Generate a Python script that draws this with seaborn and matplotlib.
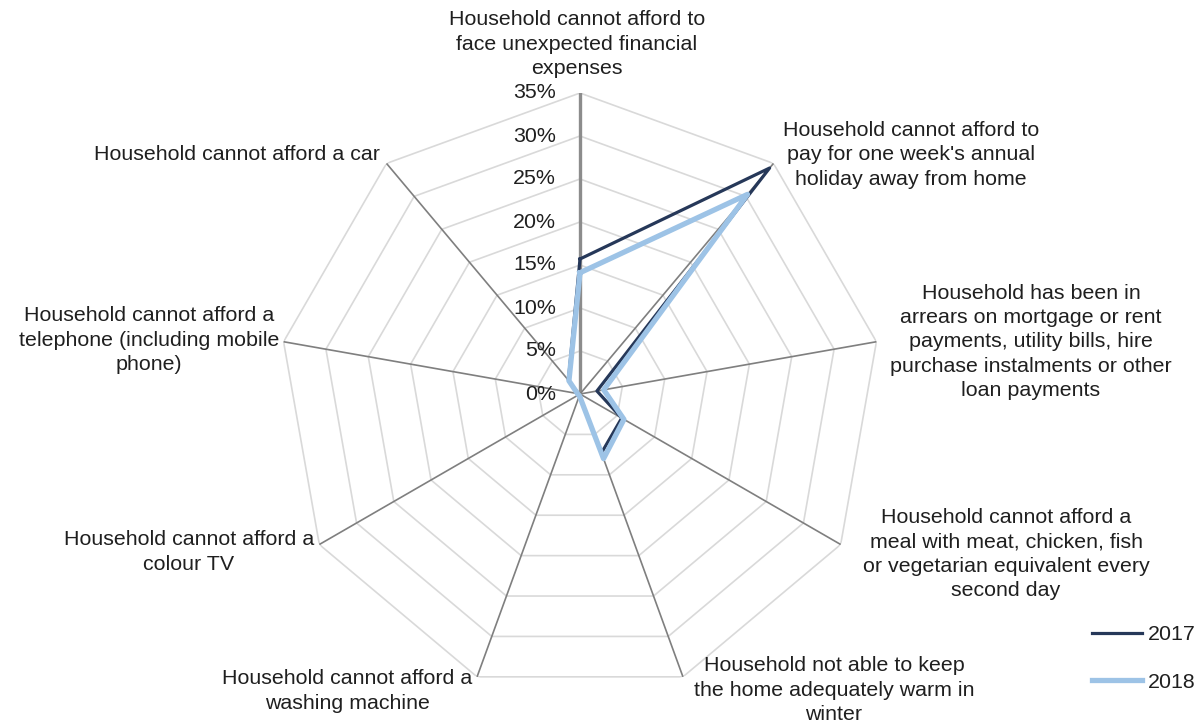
import numpy as np
import pandas as pd
import matplotlib
matplotlib.use("Agg")
import matplotlib.pyplot as plt
import matplotlib.transforms as mtransforms
from matplotlib.lines import Line2D
import seaborn as sns

categories = [
    "Household cannot afford to\nface unexpected financial\nexpenses",
    "Household cannot afford to\npay for one week's annual\nholiday away from home",
    "Household has been in\narrears on mortgage or rent\npayments, utility bills, hire\npurchase instalments or other\nloan payments",
    "Household cannot afford a\nmeal with meat, chicken, fish\nor vegetarian equivalent every\nsecond day",
    "Household not able to keep\nthe home adequately warm in\nwinter",
    "Household cannot afford a\nwashing machine",
    "Household cannot afford a\ncolour TV",
    "Household cannot afford a\ntelephone (including mobile\nphone)",
    "Household cannot afford a car",
]
values_2017 = [15.7, 34.3, 2.0, 5.6, 7.3, 0.2, 0.2, 0.3, 2.1]
values_2018 = [14.1, 30.3, 2.8, 5.9, 8.0, 0.2, 0.2, 0.3, 2.0]
years = ["2017", "2018"]
tick_values = [0, 5, 10, 15, 20, 25, 30, 35]
tick_labels = ["0%", "5%", "10%", "15%", "20%", "25%", "30%", "35%"]

colors = {"2017": "#263859", "2018": "#9DC3E6"}
widths = {"2017": 2.3, "2018": 3.8}

plt.rcParams["font.family"] = ["Liberation Sans", "DejaVu Sans"]
FS = 15.4
TXT = "#1f1f1f"

W, H = 1201, 724
fig = plt.figure(figsize=(W / 100, H / 100), dpi=100)
cx, cy, R = 580, 394, 301
ax = fig.add_axes([(cx - R) / W, (H - cy - R) / H, 2 * R / W, 2 * R / H], projection="polar")
ax.set_theta_zero_location("N")
ax.set_theta_direction(-1)
ax.set_ylim(0, 35)
ax.grid(False)
ax.set_xticks([])
ax.set_yticks([])
ax.spines["polar"].set_visible(False)
ax.patch.set_alpha(0)

n = len(categories)
theta = np.arange(n) * 2 * np.pi / n
theta_closed = np.append(theta, 2 * np.pi)

# polygon rings
for r in tick_values[1:]:
    ax.plot(theta_closed, [r] * (n + 1), color="#d9d9d9", lw=1.2, zorder=1)
# spokes
for i, t in enumerate(theta):
    if i == 0:
        ax.plot([t, t], [0, 35], color="#8c8c8c", lw=2.4, zorder=2)
    else:
        ax.plot([t, t], [0, 35], color="#7f7f7f", lw=1.2, zorder=2)

# data
rows = []
for year, vals in zip(years, [values_2017, values_2018]):
    vv = list(vals) + [vals[0]]
    for t, v in zip(theta_closed, vv):
        rows.append({"theta": t, "value": v, "year": year})
df = pd.DataFrame(rows)
for year in years:
    sub = df[df["year"] == year]
    sns.lineplot(data=sub, x="theta", y="value", sort=False, estimator=None,
                 color=colors[year], lw=widths[year], ax=ax, legend=False, zorder=5)
ax.set_xlabel("")
ax.set_ylabel("")
ax.set_xticks([])
ax.set_yticks([])
ax.set_ylim(0, 35)

# radial labels
off = mtransforms.offset_copy(ax.transData, fig=fig, x=-24, y=0, units="dots")
for v, lab in zip(tick_values, tick_labels):
    ax.text(0, v, lab, transform=off, ha="right", va="center", fontsize=FS, color=TXT)

# category labels (pixel centres)
label_pos = [(577, 44), (911, 155), (1031, 342), (1006, 554), (834, 690),
             (347, 691), (189, 552), (149, 340), (237, 155)]
for lab, (x, y) in zip(categories, label_pos):
    fig.text(x / W, 1 - y / H, lab, ha="center", va="center", multialignment="center",
             fontsize=FS, color=TXT, linespacing=1.34)

handles = [Line2D([], [], color=colors[y], lw=widths[y]) for y in years]
fig.legend(handles, years, loc="upper left", bbox_to_anchor=(1092 / W, 1 - 625 / H),
           frameon=False, fontsize=FS, handlelength=2.35, handletextpad=0.28,
           labelspacing=1.34, borderpad=0, borderaxespad=0, labelcolor=TXT)

fig.savefig("out.png", dpi=100)
